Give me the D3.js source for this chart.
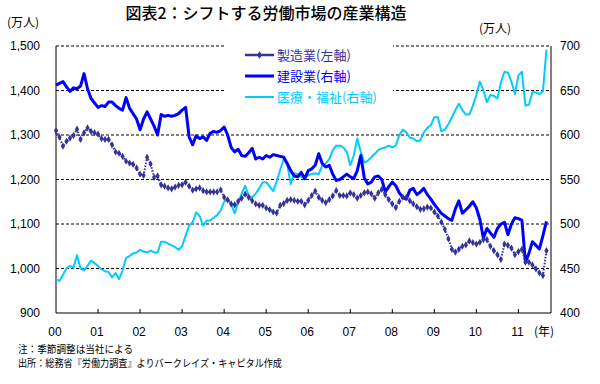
<!DOCTYPE html>
<html>
<head>
<meta charset="utf-8">
<script src="https://cdn.jsdelivr.net/npm/d3@7"></script>
<style>
  body { margin: 0; background: #fff; }
  svg { display: block; }
  text { font-family: "Liberation Sans", Arial, sans-serif; }
  .jp { font-family: "Noto Sans CJK JP", sans-serif; }
</style>
</head>
<body>
<svg id="chart" width="600" height="384"></svg>
<script>
// monthly, Jan 2000 - Sep 2011
var startYear = 2000;

// 製造業 (left axis, 万人)
var manufacturing = [1310,1295,1275,1286,1293,1299,1313,1290,1305,1316,1308,1305,
  1302,1292,1290,1290,1278,1262,1259,1252,1241,1237,1234,1226,
  1212,1209,1250,1235,1205,1208,1188,1185,1181,1179,1183,1187,
  1188,1194,1185,1176,1179,1181,1175,1172,1172,1172,1172,1177,
  1160,1154,1145,1143,1151,1158,1167,1160,1152,1145,1142,1142,
  1136,1132,1127,1125,1142,1146,1153,1155,1153,1151,1151,1143,
  1153,1164,1174,1160,1153,1148,1155,1163,1175,1164,1164,1163,
  1170,1166,1158,1164,1170,1172,1168,1158,1170,1178,1166,1155,
  1145,1137,1151,1160,1160,1152,1145,1139,1133,1134,1138,1136,
  1127,1118,1104,1088,1067,1043,1037,1043,1050,1053,1062,1058,
  1055,1059,1065,1065,1050,1040,1031,1020,1055,1052,1046,1031,
  1038,1043,1014,1014,1008,999,990,984,1040];

// 建設業 (right axis, 万人)
var construction = [656,658,660,654,649,653,652,655,669,652,641,636,
  631,633,632,637,637,633,630,628,642,630,624,618,
  606,618,626,618,610,600,623,621,622,621,622,624,
  628,631,598,589,599,596,598,594,602,604,603,605,
  609,600,586,581,584,577,576,580,585,573,575,573,
  577,575,578,577,576,575,568,560,554,553,558,551,
  560,562,566,579,568,564,566,556,549,550,553,556,
  553,551,560,577,552,545,547,553,554,550,536,542,
  547,543,535,530,528,538,540,533,536,540,533,528,
  522,517,512,509,506,504,517,526,512,516,520,525,
  518,505,484,495,490,485,495,500,502,488,500,507,
  506,504,457,467,480,476,472,487,503];

// 医療・福祉 (right axis, 万人)
var healthcare = [438,436,443,450,453,451,465,450,448,453,459,456,
  453,449,447,446,440,445,438,448,462,464,467,468,
  471,469,468,470,468,468,480,480,478,476,474,471,
  475,487,498,502,513,509,498,504,504,507,510,515,
  525,528,522,512,524,534,543,532,530,534,540,547,
  547,542,537,548,561,573,567,545,557,556,553,551,
  555,556,557,556,566,568,573,583,588,588,586,581,
  566,577,596,581,569,571,575,579,583,585,586,588,
  586,588,600,606,603,597,596,593,594,603,608,611,
  620,620,604,606,612,620,628,635,628,623,623,633,
  645,660,650,637,645,644,641,659,671,670,660,646,
  667,671,633,634,648,648,646,649,696];

var leftTicks = [900, 1000, 1100, 1200, 1300, 1400, 1500];
var rightTicks = [400, 450, 500, 550, 600, 650, 700];
var yearLabels = ["00","01","02","03","04","05","06","07","08","09","10","11"];

var series = [
  {name: "製造業(左軸)", color: "#333399", axis: "left", values: manufacturing},
  {name: "建設業(右軸)", color: "#0000ff", axis: "right", values: construction},
  {name: "医療・福祉(右軸)", color: "#00ccff", axis: "right", values: healthcare}
];

var margin = {top: 46, right: 49, bottom: 71, left: 56},
    width = 600 - margin.left - margin.right,
    height = 384 - margin.top - margin.bottom;

var x = d3.scaleLinear().domain([0, 141.3]).range([0, width]);
var yL = d3.scaleLinear().domain([900, 1500]).range([height, 0]);
var yR = d3.scaleLinear().domain([400, 700]).range([height, 0]);

var svg = d3.select("#chart");

svg.append("text")
    .attr("class", "jp")
    .attr("x", 266)
    .attr("y", 19)
    .attr("text-anchor", "middle")
    .attr("font-size", "16px")
    .attr("font-weight", 500)
    .text("図表2：シフトする労働市場の産業構造");

svg.append("text").attr("class", "jp")
    .attr("x", 7).attr("y", 27).attr("font-size", "12px")
    .text("(万人)");
svg.append("text").attr("class", "jp")
    .attr("x", 479).attr("y", 33).attr("font-size", "12px")
    .text("(万人)");

var g = svg.append("g")
    .attr("transform", "translate(" + margin.left + "," + margin.top + ")");

// gridlines
g.append("g")
  .selectAll("line")
  .data(leftTicks.slice(1))
  .join("line")
    .attr("x1", 0).attr("x2", width)
    .attr("y1", d => yL(d)).attr("y2", d => yL(d))
    .attr("stroke", "#000")
    .attr("stroke-dasharray", "3,2");

// legend backing
g.append("rect")
    .attr("x", 169).attr("y", -3)
    .attr("width", 168).attr("height", 64)
    .attr("fill", "#fff");

// axes frame
g.append("line").attr("x1", 0).attr("x2", 0).attr("y1", 0).attr("y2", height).attr("stroke", "#000");
g.append("line").attr("x1", width).attr("x2", width).attr("y1", 0).attr("y2", height).attr("stroke", "#000");
g.append("line").attr("x1", 0).attr("x2", width).attr("y1", height).attr("y2", height).attr("stroke", "#000");

// year ticks
g.append("g")
  .selectAll("line")
  .data(d3.range(1, yearLabels.length))
  .join("line")
    .attr("x1", i => x(i * 12)).attr("x2", i => x(i * 12))
    .attr("y1", height).attr("y2", height - 4)
    .attr("stroke", "#000");

g.append("g")
    .attr("font-size", "12px")
    .attr("text-anchor", "middle")
  .selectAll("text")
  .data(yearLabels)
  .join("text")
    .attr("x", (d, i) => x(i * 12) - 1)
    .attr("y", height + 23)
    .text(d => d);

g.append("text").attr("class", "jp")
    .attr("x", 478).attr("y", height + 23)
    .attr("font-size", "12px")
    .text("(年)");

var fmt = d3.format(",");
g.append("g")
    .attr("font-size", "12px")
    .attr("text-anchor", "end")
  .selectAll("text")
  .data(leftTicks)
  .join("text")
    .attr("x", -16)
    .attr("y", d => yL(d))
    .attr("dy", "0.35em")
    .text(d => fmt(d));

g.append("g")
    .attr("font-size", "12px")
  .selectAll("text")
  .data(rightTicks)
  .join("text")
    .attr("x", width + 9)
    .attr("y", d => yR(d))
    .attr("dy", "0.35em")
    .text(d => d);

// series
function lineFor(s) {
  var y = s.axis == "left" ? yL : yR;
  return d3.line().x((_, i) => x(i)).y(d => y(d))(s.values);
}

g.append("path")
    .attr("d", lineFor(series[2]))
    .attr("fill", "none")
    .attr("stroke", series[2].color)
    .attr("stroke-width", 2)
    .attr("stroke-linejoin", "round");

g.append("path")
    .attr("d", lineFor(series[1]))
    .attr("fill", "none")
    .attr("stroke", series[1].color)
    .attr("stroke-width", 3)
    .attr("stroke-linejoin", "round");

g.append("path")
    .attr("d", lineFor(series[0]))
    .attr("fill", "none")
    .attr("stroke", series[0].color)
    .attr("stroke-width", 2)
    .attr("stroke-dasharray", "1.5,1.5");

var diamond = d3.symbol().type(d3.symbolDiamond).size(15);
g.append("g")
    .attr("fill", series[0].color)
  .selectAll("path")
  .data(manufacturing)
  .join("path")
    .attr("transform", (d, i) => "translate(" + x(i) + "," + yL(d) + ")")
    .attr("d", diamond);

// legend
var legend = g.append("g")
  .selectAll("g")
  .data(series)
  .join("g")
    .attr("transform", (d, i) => "translate(189," + (9 + i * 21) + ")");

legend.append("line")
    .attr("x1", 0).attr("x2", 29)
    .attr("stroke", d => d.color)
    .attr("stroke-width", (d, i) => i == 0 ? 2.5 : i == 1 ? 3 : 2);

legend.filter((d, i) => i == 0).append("path")
    .attr("transform", "translate(14.5,0)")
    .attr("fill", d => d.color)
    .attr("d", d3.symbol().type(d3.symbolDiamond).size(18));

legend.append("text")
    .attr("class", "jp")
    .attr("x", 32)
    .attr("dy", "0.38em")
    .attr("font-size", "13px")
    .attr("fill", d => d.color)
    .text(d => d.name);

// notes
svg.append("text").attr("class", "jp")
    .attr("x", 18).attr("y", 353)
    .attr("font-size", "10.5px")
    .attr("textLength", 115).attr("lengthAdjust", "spacingAndGlyphs")
    .text("注：季節調整は当社による");
svg.append("text").attr("class", "jp")
    .attr("x", 18).attr("y", 367)
    .attr("font-size", "10.5px")
    .attr("textLength", 264).attr("lengthAdjust", "spacingAndGlyphs")
    .text("出所：総務省『労働力調査』よりバークレイズ・キャピタル作成");
</script>
</body>
</html>
